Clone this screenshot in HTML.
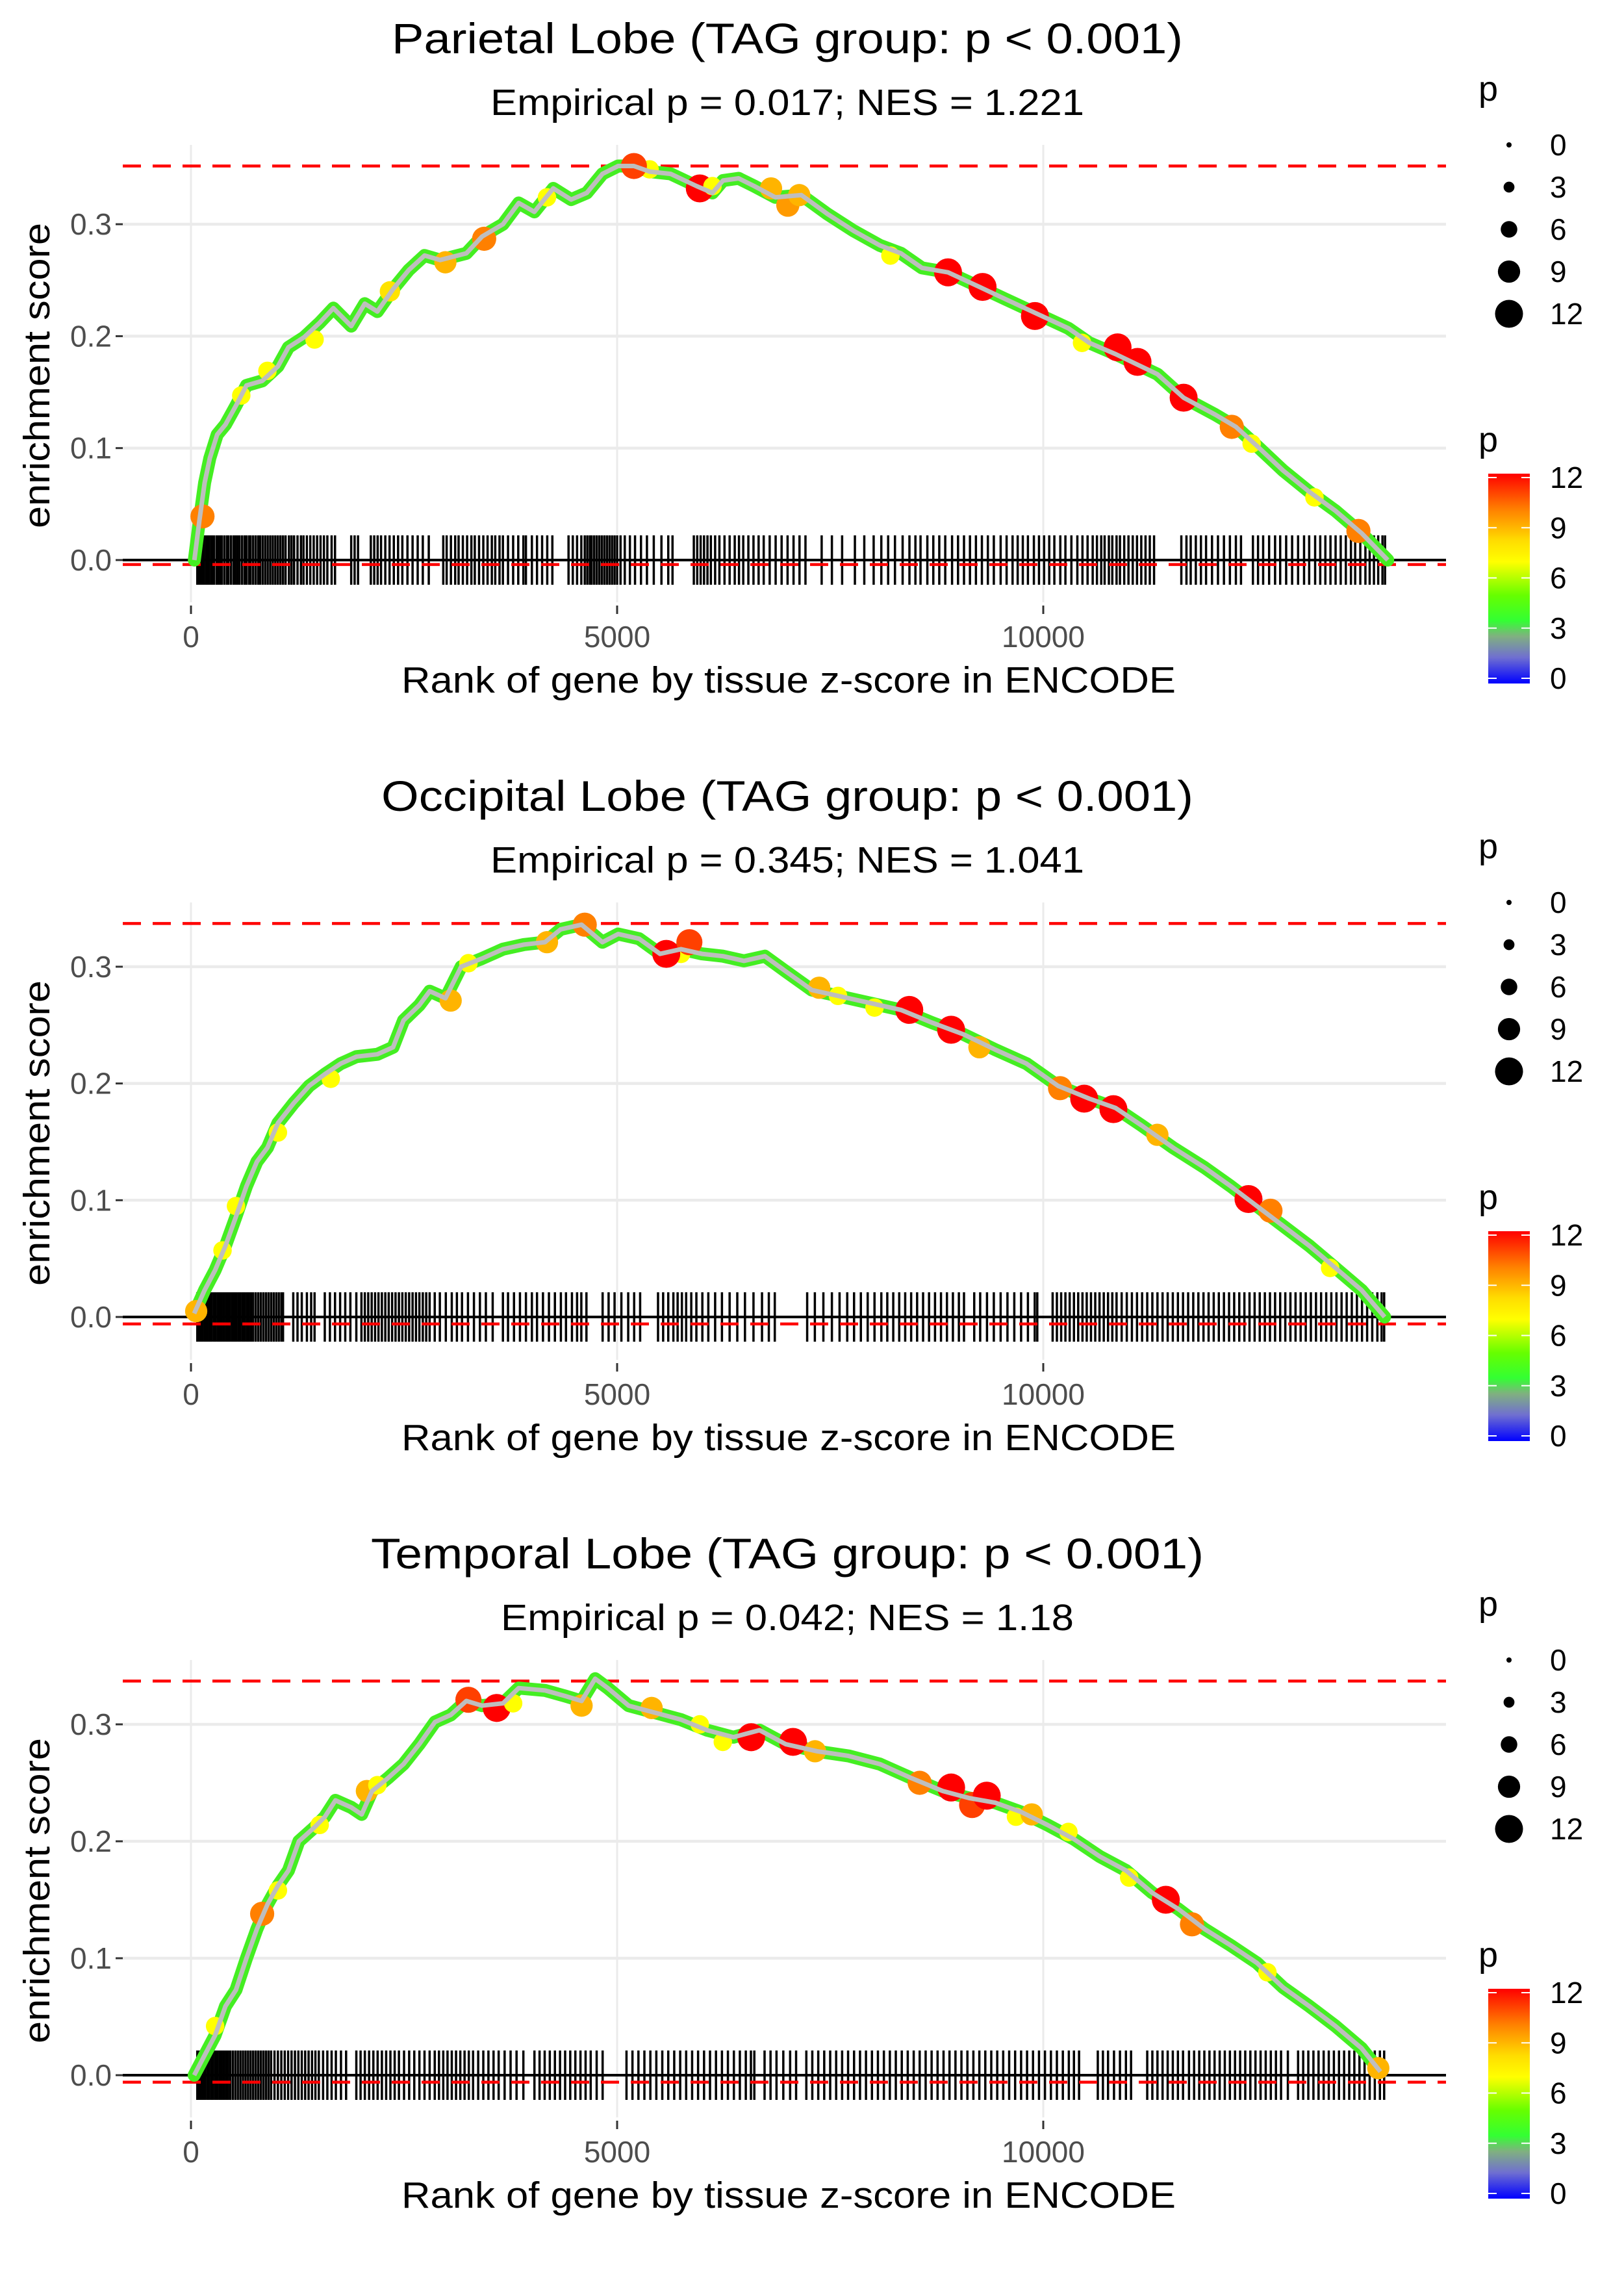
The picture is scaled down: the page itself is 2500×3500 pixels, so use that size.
<!DOCTYPE html>
<html><head><meta charset="utf-8"><style>
html,body{margin:0;padding:0;background:#fff;}
svg{display:block;font-family:"Liberation Sans",sans-serif;}
</style></head><body>
<svg id="chart" width="2500" height="3500" viewBox="0 0 2500 3500" xmlns="http://www.w3.org/2000/svg">
<defs>
<linearGradient id="pgrad" x1="0" y1="1" x2="0" y2="0">
<stop offset="0" stop-color="#0000ff"/>
<stop offset="0.125" stop-color="#7070d0"/>
<stop offset="0.225" stop-color="#80b080"/>
<stop offset="0.3" stop-color="#33ff33"/>
<stop offset="0.42" stop-color="#66ff00"/>
<stop offset="0.58" stop-color="#ffff00"/>
<stop offset="0.68" stop-color="#ffdd00"/>
<stop offset="0.83" stop-color="#ff8000"/>
<stop offset="1" stop-color="#ff0000"/>
</linearGradient>
</defs>
</svg>
<script>
// ---------- Panel 1: Parietal ----------
const p1CurveRank=[40,98,160,221,307,405,528,651,835,1020,1143,1327,1511,1671,1880,2039,2187,2371,2555,2740,2924,3231,3415,3661,3845,4029,4251,4460,4644,4828,5012,5197,5381,5627,5934,6119,6242,6425,6610,6856,7162,7470,7777,8084,8330,8576,8883,9251,9558,9927,10295,10541,10848,11094,11340,11647,12015,12261,12507,12814,13121,13428,13735,14042];
const p1CurveES=[0,.035,.069,.091,.112,.121,.138,.156,.160,.173,.190,.199,.212,.225,.209,.229,.222,.242,.259,.272,.268,.274,.289,.300,.319,.311,.332,.322,.328,.345,.352,.352,.347,.345,.334,.328,.339,.341,.334,.324,.326,.309,.294,.281,.274,.261,.257,.244,.233,.220,.207,.194,.184,.175,.166,.145,.130,.119,.102,.080,.061,.044,.024,0];
const p1HitRank=[135,590,897,1450,2334,2985,3440,4177,5381,5197,5970,6119,6806,7003,7137,8207,8883,9288,9902,10455,10872,11106,11647,12212,12445,13182,13698];
const p1HitES=[.039,.147,.169,.197,.240,.266,.287,.324,.349,.352,.332,.334,.332,.317,.326,.272,.257,.244,.218,.194,.190,.177,.145,.119,.104,.056,.026];
const p1HitP=[10,7,7,7,8,9,10,7,7,11,12,7,9,9.5,9,7,12,12,12,7,12,12,12,10,7,7,10];
const p1Rug=[74,95,110,130,150,175,190,210,235,250,270,300,320,345,360,390,420,440,470,500,520,545,570,600,630,650,680,700,730,760,790,810,840,870,900,930,960,990,1020,1050,1080,1110,1150,1180,1210,1250,1290,1320,1360,1400,1440,1480,1520,1560,1600,1650,1690,1880,1920,1960,2110,2150,2190,2230,2280,2330,2380,2430,2480,2540,2600,2660,2720,2790,2960,3000,3050,3100,3140,3190,3240,3290,3330,3380,3430,3480,3530,3570,3620,3660,3720,3780,3840,3900,3930,4000,4060,4120,4180,4240,4430,4480,4530,4580,4620,4650,4680,4700,4730,4760,4790,4820,4850,4880,4910,4940,4970,5000,5040,5090,5150,5210,5280,5350,5430,5520,5600,5650,5900,5940,5980,6020,6060,6100,6150,6200,6260,6320,6380,6430,6480,6540,6600,6660,6720,6790,6860,6930,7000,7070,7140,7210,7400,7520,7640,7790,7900,8010,8100,8180,8260,8350,8430,8500,8560,8640,8710,8780,8850,8930,9000,9070,9140,9210,9280,9350,9420,9500,9570,9640,9700,9760,9820,9890,9950,10010,10070,10130,10200,10260,10330,10400,10460,10520,10580,10630,10680,10720,10770,10810,10860,10900,10950,11000,11050,11100,11150,11200,11250,11300,11620,11680,11730,11790,11850,11910,11980,12050,12120,12190,12260,12320,12460,12520,12580,12650,12720,12780,12850,12920,12990,13060,13120,13190,13250,13310,13370,13430,13490,13550,13610,13660,13720,13780,13830,13880,13930,13980,14010];
const p1Lines=[.352,-.004];

// ---------- Panel 2: Occipital ----------
const p2CurveRank=[37,160,283,405,528,651,774,897,1020,1204,1388,1572,1757,1941,2187,2371,2494,2678,2801,2986,3170,3415,3661,3907,4153,4337,4583,4828,5012,5258,5504,5749,5995,6242,6488,6733,6979,7285,7592,7961,8330,8699,9066,9435,9803,10172,10541,10848,11155,11523,11892,12199,12507,12814,13121,13428,13735,14005];
const p2CurveES=[.003,.023,.040,.061,.086,.112,.133,.145,.166,.183,.198,.208,.217,.223,.225,.231,.254,.267,.279,.273,.300,.307,.315,.319,.321,.332,.336,.321,.328,.324,.311,.315,.311,.309,.305,.309,.296,.280,.275,.269,.263,.252,.242,.229,.217,.198,.187,.179,.164,.145,.128,.112,.095,.078,.061,.042,.023,0];
const p2HitRank=[61,370,528,1020,1640,3047,3255,4177,4620,5750,5577,5848,7371,7592,8020,8428,8919,9251,10197,10480,10823,11339,12408,12666,13366];
const p2HitES=[.005,.057,.095,.158,.204,.271,.303,.321,.336,.311,.311,.321,.282,.275,.265,.263,.246,.231,.196,.187,.178,.156,.101,.091,.042];
const p2HitP=[9,7,7,7,7,9,7,9,10,7,12,11,9,7,7,12,12,9,10,12,12,9,12,10,7];
const p2Rug=[74,95,115,135,160,180,200,225,245,270,290,315,340,360,385,410,430,455,480,505,530,555,580,605,630,655,680,705,730,760,790,820,850,880,910,940,970,1000,1030,1060,1080,1200,1250,1300,1360,1410,1450,1570,1630,1690,1750,1810,1870,1940,2000,2040,2080,2120,2160,2200,2240,2280,2320,2360,2400,2440,2480,2520,2560,2600,2640,2680,2720,2760,2800,2860,2920,2990,3060,3120,3180,3250,3320,3390,3460,3540,3660,3720,3790,3860,3930,4000,4060,4130,4200,4270,4340,4400,4470,4530,4580,4640,4830,4900,4970,5050,5130,5200,5270,5480,5540,5600,5660,5710,5760,5810,5870,5930,6000,6070,6150,6230,6320,6410,6500,6600,6700,6780,6850,7230,7320,7420,7520,7610,7700,7780,7860,7940,8020,8100,8170,8240,8310,8380,8450,8520,8590,8660,8730,8800,8870,8940,9010,9070,9190,9260,9340,9420,9500,9580,9660,9740,9820,9900,9930,10110,10160,10210,10260,10310,10360,10410,10460,10510,10560,10610,10660,10710,10760,10810,10860,10920,10980,11040,11100,11160,11220,11280,11340,11400,11460,11520,11580,11640,11700,11760,11820,11880,11940,12000,12060,12120,12180,12240,12300,12360,12420,12480,12540,12600,12660,12720,12780,12840,12900,12960,13020,13080,13140,13200,13260,13320,13380,13440,13500,13560,13620,13680,13740,13800,13860,13920,13970,14000];
const p2Lines=[.337,-.006];

// ---------- Panel 3: Temporal ----------
const p3CurveRank=[37,160,283,405,528,651,774,897,1020,1143,1266,1450,1572,1695,1880,2003,2125,2310,2494,2678,2863,3047,3231,3415,3661,3845,4153,4399,4583,4742,4890,5135,5442,5749,6056,6364,6671,6979,7347,7715,8084,8453,8821,9128,9435,9742,10049,10357,10664,10971,11278,11586,11892,12199,12507,12814,13121,13428,13735,13956];
const p3CurveES=[0,.017,.034,.059,.073,.100,.125,.146,.162,.175,.200,.212,.221,.235,.229,.223,.243,.254,.266,.283,.302,.308,.320,.316,.318,.331,.329,.324,.320,.339,.331,.316,.310,.304,.295,.289,.295,.283,.277,.273,.266,.254,.243,.237,.233,.225,.214,.202,.187,.175,.156,.142,.125,.111,.096,.075,.059,.042,.023,.003];
const p3HitRank=[283,835,1020,1510,2064,2187,3255,3587,3780,4583,5405,5970,6240,6573,7064,7322,8550,8919,9165,9337,9680,9865,10295,11008,11438,11745,12630,13931];
const p3HitES=[.042,.138,.158,.214,.243,.248,.321,.314,.318,.316,.314,.300,.285,.289,.285,.277,.250,.246,.231,.239,.221,.223,.208,.169,.150,.129,.088,.006];
const p3HitP=[7,10,7,7,9,7,11,12,7,9,9,7,7,12,12,9,10,12,11,12,7,9,7,7,12,10,7,9];
const p3Rug=[74,95,120,140,165,190,210,235,260,285,310,335,360,385,410,435,460,490,520,550,580,610,640,670,700,730,760,790,820,850,880,910,940,980,1020,1060,1100,1140,1180,1220,1260,1300,1340,1380,1420,1460,1500,1550,1600,1650,1700,1760,1820,1940,1990,2040,2090,2140,2190,2240,2290,2340,2390,2440,2500,2560,2620,2680,2740,2800,2860,2910,2960,3010,3060,3110,3160,3210,3260,3310,3370,3430,3490,3550,3610,3680,3750,3820,3900,4030,4090,4150,4210,4270,4330,4390,4450,4510,4570,4630,4690,4760,4830,5110,5180,5250,5320,5390,5460,5530,5600,5670,5740,5810,5880,5950,6020,6090,6160,6230,6300,6370,6440,6510,6570,6610,6730,6800,6870,6950,7030,7100,7220,7290,7360,7430,7500,7570,7640,7710,7780,7850,7920,7990,8060,8130,8200,8270,8340,8410,8480,8550,8620,8690,8760,8830,8900,8970,9040,9110,9180,9250,9320,9390,9460,9530,9600,9670,9740,9810,9880,9950,10020,10090,10160,10230,10300,10360,10420,10640,10700,10760,10830,10900,10970,11030,11220,11280,11340,11400,11460,11520,11580,11640,11710,11770,11830,11890,11950,12010,12070,12130,12190,12250,12310,12370,12430,12490,12550,12610,12670,12730,12790,12870,12990,13050,13110,13170,13230,13290,13350,13410,13470,13530,13590,13650,13710,13770,13830,13890,13950,14000];
const p3Lines=[.337,-.006];

const titles=["Parietal Lobe (TAG group: p < 0.001)","Occipital Lobe (TAG group: p < 0.001)","Temporal Lobe (TAG group: p < 0.001)"];
const subtitles=["Empirical p = 0.017; NES = 1.221","Empirical p = 0.345; NES = 1.041","Empirical p = 0.042; NES = 1.18"];
const xTicks=[0,5000,10000];
const yTicks=[0,0.1,0.2,0.3];
const yTickLabels=["0.0","0.1","0.2","0.3"];
const legendSizes=[0,3,6,9,12];

const panels=[
 {cr:p1CurveRank,ce:p1CurveES,hr:p1HitRank,he:p1HitES,hp:p1HitP,rug:p1Rug,ln:p1Lines},
 {cr:p2CurveRank,ce:p2CurveES,hr:p2HitRank,he:p2HitES,hp:p2HitP,rug:p2Rug,ln:p2Lines},
 {cr:p3CurveRank,ce:p3CurveES,hr:p3HitRank,he:p3HitES,hp:p3HitP,rug:p3Rug,ln:p3Lines}
];
const geo=[{oy:0,y0:862,k:1723,tw:1218,sw:914},{oy:1166,y0:861,k:1797,tw:1250,sw:914},{oy:2332,y0:862,k:1800,tw:1282,sw:882}];

const svg=document.getElementById('chart');
const NS='http://www.w3.org/2000/svg';
function mk(tag,attrs,parent){const e=document.createElementNS(NS,tag);for(const a in attrs)e.setAttribute(a,attrs[a]);(parent||svg).appendChild(e);return e;}
const X0=294, XK=656/5000, PL=189, PR=2226;
function xs(r){return X0+r*XK;}
const stops=[[0,[0,0,255]],[1.5,[112,112,208]],[2.7,[128,176,128]],[3.6,[51,255,51]],[5,[102,255,0]],[7,[255,255,0]],[8.2,[255,221,0]],[10,[255,128,0]],[12,[255,0,0]]];
function pcol(p){for(let i=1;i<stops.length;i++){if(p<=stops[i][0]){const a=stops[i-1],b=stops[i];const t=(p-a[0])/(b[0]-a[0]);const c=a[1].map((v,j)=>Math.round(v+(b[1][j]-v)*t));return 'rgb('+c.join(',')+')';}}return 'rgb(255,0,0)';}
function psize(p){return (8+2.92*p)/2;}

panels.forEach((P,i)=>{
 const G=geo[i]; const oy=G.oy;
 const ys=v=>oy+G.y0-v*G.k;
 const g=mk('g',{});
 
 
 yTicks.forEach(v=>{const l=mk('line',{x1:PL,x2:PR,y1:ys(v),y2:ys(v),stroke:'#ebebeb','stroke-width':4.5},g);
  
  });
 xTicks.forEach(v=>{const l=mk('line',{x1:xs(v),x2:xs(v),y1:oy+223,y2:oy+927,stroke:'#ebebeb','stroke-width':3},g);
  
  });
 yTicks.forEach((v,j)=>{
  const t=mk('line',{x1:178,x2:189,y1:ys(v),y2:ys(v),stroke:'#333','stroke-width':3},g);
  
  
  const tx=mk('text',{x:172,y:ys(v)+16,'text-anchor':'end','font-size':46,fill:'#4d4d4d'},g);
  tx.textContent=yTickLabels[j];
  
  
 });
 xTicks.forEach(v=>{
  const t=mk('line',{x1:xs(v),x2:xs(v),y1:oy+932,y2:oy+945,stroke:'#333','stroke-width':3},g);
  
  
  const tx=mk('text',{x:xs(v),y:oy+996,'text-anchor':'middle','font-size':46,fill:'#4d4d4d'},g);
  tx.textContent=String(v);
  
  
 });
 const z=mk('line',{x1:PL,x2:PR,y1:ys(0),y2:ys(0),stroke:'#000','stroke-width':4},g);
 
 
 const rg=mk('g',{},g);
 
 
 P.rug.forEach(r=>{const l=mk('line',{x1:xs(r),x2:xs(r),y1:ys(0)-38,y2:ys(0)+38,stroke:'#000','stroke-width':3.5},rg);
  
  });
 P.ln.forEach((v,j)=>{const l=mk('line',{x1:PL,x2:PR,y1:ys(v),y2:ys(v),stroke:'#ff0000','stroke-width':4.5,'stroke-dasharray':'28 18'},g);
  
  });
 const pts=P.cr.map((r,j)=>xs(r).toFixed(1)+','+ys(P.ce[j]).toFixed(1)).join(' ');
 const band=mk('polyline',{points:pts,fill:'none',stroke:'#44ee22','stroke-width':20,'stroke-linejoin':'round','stroke-linecap':'round'},g);
 
 
 P.hr.forEach((r,j)=>{const c=mk('circle',{cx:xs(r),cy:ys(P.he[j]),r:psize(P.hp[j]),fill:pcol(P.hp[j])},g);
  
  });
 const line=mk('polyline',{points:pts,fill:'none',stroke:'#bebebe','stroke-width':7,'stroke-linejoin':'round'},g);
 
 
 const t1=mk('text',{x:1212,y:oy+82,'text-anchor':'middle','font-size':66,fill:'#000',textLength:G.tw,lengthAdjust:'spacingAndGlyphs'},g);
 t1.textContent=titles[i];
 
 
 const t2=mk('text',{x:1212,y:oy+177,'text-anchor':'middle','font-size':57,fill:'#000',textLength:G.sw,lengthAdjust:'spacingAndGlyphs'},g);
 t2.textContent=subtitles[i];
 
 
 const xt=mk('text',{x:1214,y:oy+1066,'text-anchor':'middle','font-size':57,fill:'#000',textLength:1192,lengthAdjust:'spacingAndGlyphs'},g);
 xt.textContent='Rank of gene by tissue z-score in ENCODE';
 
 
 const yt=mk('text',{x:0,y:0,'text-anchor':'middle','font-size':57,fill:'#000',transform:'translate(76,'+(oy+578)+') rotate(-90)',textLength:470,lengthAdjust:'spacingAndGlyphs'},g);
 yt.textContent='enrichment score';
 
 
 const lg=mk('g',{},g);
 
 
 const lt=mk('text',{x:2276,y:oy+155,'font-size':54,fill:'#000'},lg);
 lt.textContent='p';
 
 
 legendSizes.forEach((s,j)=>{
  const cy=oy+223+j*65;
  const c=mk('circle',{cx:2323,cy:cy,r:psize(s),fill:'#000'},lg);
  
  
  const tx=mk('text',{x:2386,y:cy+16,'font-size':46,fill:'#000'},lg);
  tx.textContent=String(s);
  
  
 });
 const cg=mk('g',{},g);
 
 
 const ct=mk('text',{x:2276,y:oy+695,'font-size':54,fill:'#000'},cg);
 ct.textContent='p';
 
 
 const bar=mk('rect',{x:2291,y:oy+729,width:64,height:323,fill:'url(#pgrad)'},cg);
 
 
 legendSizes.forEach(s=>{
  const y=oy+1044-s*(309/12);
  const a=mk('line',{x1:2291,x2:2304,y1:y,y2:y,stroke:'#fff','stroke-width':2},cg);
  
  
  const b=mk('line',{x1:2342,x2:2355,y1:y,y2:y,stroke:'#fff','stroke-width':2},cg);
  
  
  const tx=mk('text',{x:2386,y:y+16,'font-size':46,fill:'#000'},cg);
  tx.textContent=String(s);
  
  
 });
});
</script>
</body></html>
